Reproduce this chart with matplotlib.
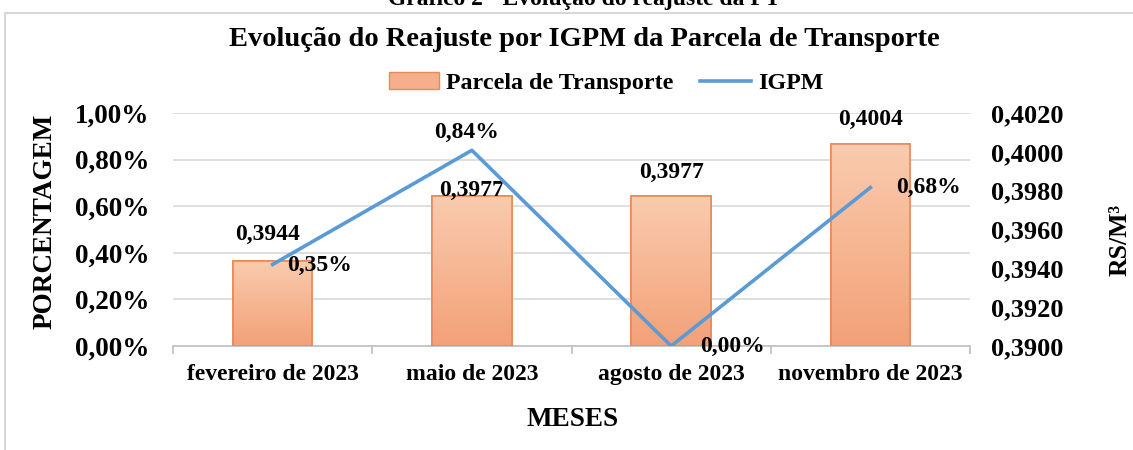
import numpy as np
import matplotlib.pyplot as plt
from matplotlib.patches import Rectangle, Patch
from matplotlib.lines import Line2D
from matplotlib.ticker import FuncFormatter, FixedLocator
from matplotlib.colors import LinearSegmentedColormap

plt.rcParams.update({
    "font.family": "serif",
    "font.serif": ["Liberation Serif", "DejaVu Serif"],
    "font.weight": "bold",
    "font.size": 17,
})

meses = ["fevereiro de 2023", "maio de 2023", "agosto de 2023", "novembro de 2023"]
parcela = [0.3944, 0.3977, 0.3977, 0.4004]      # R$/m³
igpm = [0.35, 0.84, 0.00, 0.68]                 # %

bar_color = "#F5B08B"
edge_color = "#E98A5C"
line_color = "#5B9BD5"
grid_color = "#D9D9D9"

fig = plt.figure(figsize=(11.33, 4.5), dpi=100)

# moldura do gráfico (imagem recortada)
fig.patches.append(Rectangle((5 / 1133, -0.2), 1.2, 0.2 + 1 - 13 / 450,
                             transform=fig.transFigure, fill=False,
                             edgecolor="#D0D0D0", linewidth=1.2))

ax = fig.add_axes([173 / 1133, 1 - 346 / 450, 797 / 1133, 233 / 450])
ax2 = ax.twinx()
ax3 = ax.twinx()

x = np.arange(len(meses))

# eixo esquerdo: grade + percentuais
ax.set_xlim(-0.5, len(meses) - 0.5)
ax.set_ylim(0, 1.0)
ax.set_yticks(np.arange(0, 1.01, 0.2))
ax.yaxis.set_major_formatter(FuncFormatter(lambda v, p: f"{v:.2f}%".replace(".", ",")))
ax.grid(axis="y", color=grid_color, linewidth=1.2)
ax.set_axisbelow(True)
ax.tick_params(axis="y", length=0, pad=17, labelsize=19.5)
ax.set_xticks(x)
ax.set_xticklabels(meses)
ax.xaxis.set_minor_locator(FixedLocator(np.arange(-0.5, len(meses), 1.0)))
ax.tick_params(axis="x", which="major", length=0, pad=13, labelsize=17)
ax.tick_params(axis="x", which="minor", length=6, color="#BFBFBF", width=1.2)
for s in ["top", "right", "left"]:
    ax.spines[s].set_visible(False)
ax.spines["bottom"].set_color("#BFBFBF")
ax.spines["bottom"].set_linewidth(1.2)

# eixo direito: barras
ax2.set_ylim(0.39, 0.402)
ax2.set_yticks(np.arange(0.39, 0.40201, 0.002))
ax2.yaxis.set_major_formatter(FuncFormatter(lambda v, p: f"{v:.4f}".replace(".", ",")))
ax2.tick_params(axis="y", length=0, pad=15, labelsize=19)
for s in ax2.spines.values():
    s.set_visible(False)

bars = ax2.bar(x, parcela, width=0.4, color=bar_color,
               edgecolor=edge_color, linewidth=1.2, zorder=2)
grad = np.linspace(0, 1, 100).reshape(-1, 1)
cmap = LinearSegmentedColormap.from_list("g", ["#F9CBAE", "#F3A178"])
for b in bars:
    x0, w, h = b.get_x(), b.get_width(), b.get_height()
    im = ax2.imshow(grad, cmap=cmap, aspect="auto", origin="upper",
                    extent=[x0, x0 + w, 0.39, h], zorder=2.5)
    im.set_clip_path(b)
    ax2.add_patch(Rectangle((x0, 0.39), w, h - 0.39, fill=False,
                            edgecolor=edge_color, linewidth=1.2, zorder=3))
ax2.set_xlim(-0.5, len(meses) - 0.5)
ax2.set_ylim(0.39, 0.402)

bar_offsets = [(-4, 11), (0, -3), (0, 10), (0, 10)]
for xi, v, off in zip(x, parcela, bar_offsets):
    ax2.annotate(f"{v:.4f}".replace(".", ","), (xi, v), xytext=off,
                 textcoords="offset points", ha="center", va="bottom",
                 fontsize=17, zorder=5)

# linha IGPM por cima das barras
ax3.set_ylim(0, 1.0)
ax3.axis("off")
ax3.plot(x, igpm, color=line_color, linewidth=2.6, zorder=4)
line_offsets = [(34, -1), (-4, 5), (44, 0), (42, 0)]
line_va = ["center", "bottom", "center", "center"]
for xi, v, off, va in zip(x, igpm, line_offsets, line_va):
    ax3.annotate(f"{v:.2f}%".replace(".", ","), (xi, v), xytext=off,
                 textcoords="offset points", ha="center", va=va,
                 fontsize=17, annotation_clip=False)

# títulos e rótulos dos eixos
fig.text(584 / 1133, 1.0, "Gráfico 2 - Evolução do reajuste da PT",
         ha="center", va="center", fontsize=17)
fig.text(584 / 1133, 1 - 40 / 450,
         "Evolução do Reajuste por IGPM da Parcela de Transporte",
         ha="center", va="center", fontsize=20.5)
fig.text(45 / 1133, 1 - 221 / 450, "PORCENTAGEM", rotation=90,
         ha="center", va="center", fontsize=19.5)
fig.text(1120 / 1133, 1 - 240 / 450, "RS/M³", rotation=90,
         ha="center", va="center", fontsize=18.5)
fig.text(573 / 1133, 1 - 420 / 450, "MESES", ha="center", va="center",
         fontsize=19.5)

handles = [Patch(facecolor=bar_color, edgecolor=edge_color),
           Line2D([], [], color=line_color, linewidth=2.6)]
fig.legend(handles, ["Parcela de Transporte", "IGPM"], loc="center",
           bbox_to_anchor=(606 / 1133, 1 - 83 / 450), ncol=2, frameon=False,
           fontsize=17.3, handlelength=2.1, handletextpad=0.3,
           columnspacing=1.1)

fig.savefig("out.png", dpi=100)
